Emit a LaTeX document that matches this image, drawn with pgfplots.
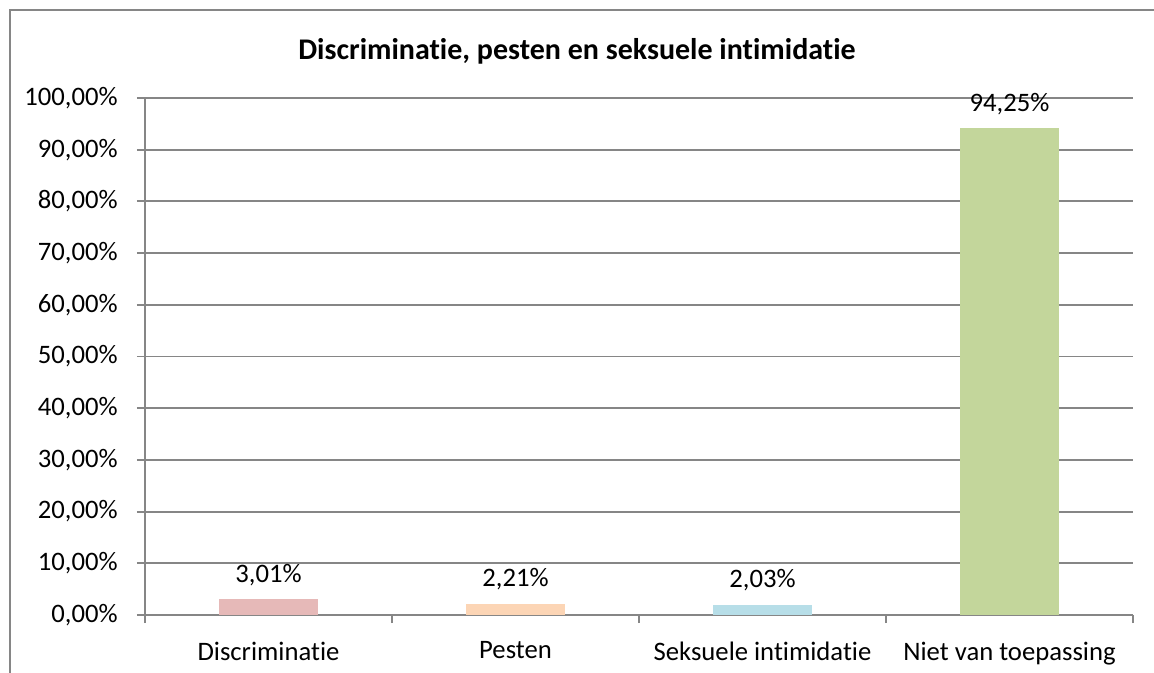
\documentclass[border=0pt]{standalone}
\usepackage{pgfplots}
\pgfplotsset{compat=1.18}
\usepackage{fontspec}
\setmainfont{Carlito}[Ligatures=NoCommon]
\definecolor{gridgray}{HTML}{868686}
\definecolor{barpink}{HTML}{E6B9B8}
\definecolor{barorange}{HTML}{FCD5B5}
\definecolor{barblue}{HTML}{B7DEE8}
\definecolor{bargreen}{HTML}{C3D69B}
\begin{document}
\begin{tikzpicture}
\useasboundingbox (0,0) rectangle (865.5pt,-504pt);
\draw[gridgray, line width=1.5pt] (7.5pt,-7.5pt) rectangle (880pt,-520pt);
\node[font=\bfseries\fontsize{22.5}{27}\selectfont] at (432.75pt,-38.5pt) {Discriminatie, pesten en seksuele intimidatie};
\begin{axis}[
  at={(108.75pt,-461.25pt)}, anchor=south west,
  scale only axis, width=741pt, height=387.75pt,
  ymin=0, ymax=100, xmin=-0.5, xmax=3.5,
  ytick={0,10,...,100},
  ymajorgrids, grid style={gridgray, line width=1.4pt},
  axis line style={gridgray, line width=1.4pt},
  axis x line*=bottom, axis y line*=left,
  xtick={0,1,2,3},
  xticklabels={Discriminatie, Pesten, Seksuele intimidatie, Niet van toepassing},
  major x tick style={draw=none},
  minor xtick={-0.5,0.5,1.5,2.5,3.5},
  tick align=outside, tick style={gridgray, line width=1.4pt},
  major tick length=6pt, minor tick length=6pt,
  ticklabel style={font=\fontsize{20}{24}\selectfont},
  yticklabel style={xshift=-11pt},
  xticklabel style={yshift=-10.5pt},
  /pgf/number format/assume math mode=true,
  yticklabel={\pgfmathprintnumber[fixed,fixed zerofill,precision=2,use comma]{\tick}\%},
  ybar, bar width=74.25pt,
  nodes near coords={\pgfmathprintnumber[fixed,fixed zerofill,precision=2,use comma]{\pgfplotspointmeta}\%},
  every node near coord/.append style={font=\fontsize{20}{24}\selectfont, anchor=center, yshift=18pt},
]
\addplot[fill=barpink, draw=none, bar shift=0pt] coordinates {(0,3.01)};
\addplot[fill=barorange, draw=none, bar shift=0pt] coordinates {(1,2.21)};
\addplot[fill=barblue, draw=none, bar shift=0pt] coordinates {(2,2.03)};
\addplot[fill=bargreen, draw=none, bar shift=0pt] coordinates {(3,94.25)};
\end{axis}
\end{tikzpicture}
\end{document}
